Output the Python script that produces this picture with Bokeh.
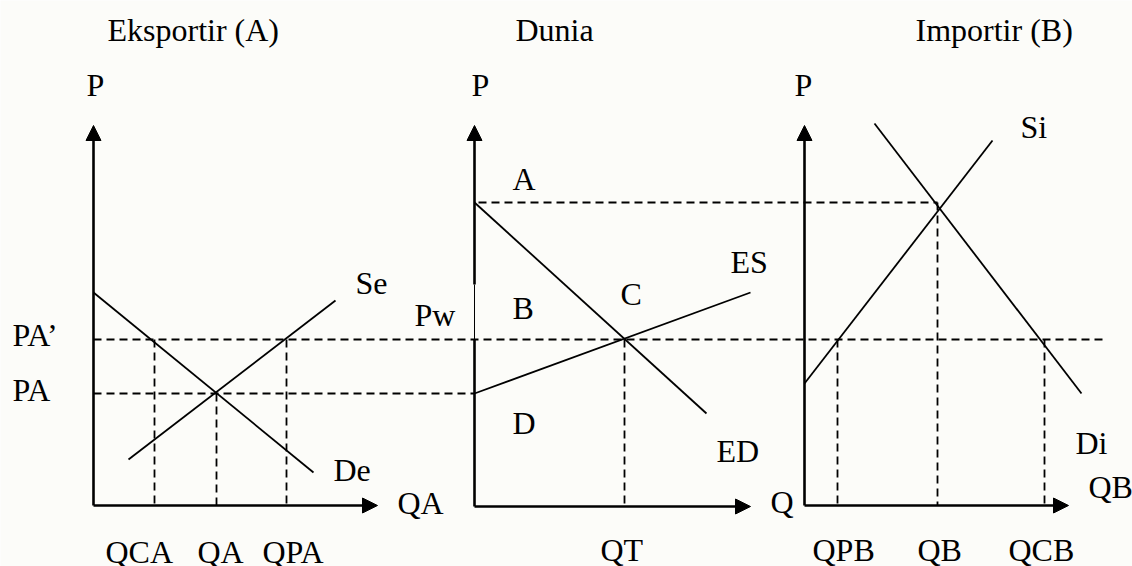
from bokeh.plotting import figure
from bokeh.models import Range1d, Arrow, NormalHead, ColumnDataSource
from bokeh.core.properties import value
from bokeh.embed import file_html
from bokeh.resources import INLINE

# ---- diagram geometry (picture coordinates: x to the right, y downward) ----
# axes with arrow heads: start -> tip
arrow_x0 = [93, 93, 474, 474, 804, 804]
arrow_y0 = [505, 505, 284, 506, 505, 505]
arrow_x1 = [93, 377, 474, 750, 804, 1068]
arrow_y1 = [125, 505, 125, 506, 125, 505]

# plain axis pieces of the middle panel (thick, thin)
axis_thick_x0 = [474]; axis_thick_y0 = [506]; axis_thick_x1 = [474]; axis_thick_y1 = [339]
axis_thin_x0 = [474];  axis_thin_y0 = [339];  axis_thin_x1 = [474];  axis_thin_y1 = [284]

# curves: De, Se, ED, ES, Di, Si
curve_names = ["De", "Se", "ED", "ES", "Di", "Si"]
curve_x0 = [93, 128, 474, 474, 874, 804]
curve_y0 = [292, 459, 202, 393, 123, 383]
curve_x1 = [313, 335, 706, 750, 1081, 992]
curve_y1 = [472, 300, 413, 292, 393, 140]

# dashed guides: PA', PA, A-level, QCA, QA, QPA, QT, QPB, QB, QCB
dash_x0 = [93, 93, 478, 154, 216, 286, 624, 837, 937, 1044]
dash_y0 = [339, 393, 202, 339, 393, 339, 339, 339, 202, 339]
dash_x1 = [1107, 474, 937, 154, 216, 286, 624, 837, 937, 1044]
dash_y1 = [339, 393, 202, 505, 505, 505, 506, 505, 505, 505]

# labels: text, left x, baseline y
label_text = ["Eksportir (A)", "Dunia", "Importir (B)",
              "P", "P", "P",
              "PA\u2019", "PA", "Se", "De", "QA",
              "QCA", "QA", "QPA",
              "A", "B", "C", "ES", "Pw", "D", "ED", "Q", "QT",
              "Si", "Di", "QB", "QPB", "QB", "QCB"]
label_x = [107, 515, 915,
           86, 471, 794,
           12, 12, 355, 333, 397,
           105, 197, 262,
           512, 512, 620, 730, 414, 512, 716, 770, 600,
           1020, 1075, 1088, 812, 917, 1008]
label_y = [40, 40, 40,
           95, 95, 95,
           345, 400, 293, 480, 513,
           562, 562, 562,
           189, 318, 304, 272, 325, 433, 461, 512, 560,
           137, 453, 497, 560, 560, 560]

bg = "#fcfcf9"
p = figure(width=1132, height=566, output_backend="svg", toolbar_location=None,
           x_range=Range1d(0, 1132), y_range=Range1d(566, 0),
           min_border=0, background_fill_color=bg, border_fill_color=bg)
p.axis.visible = False
p.grid.visible = False
p.outline_line_color = None

# axes
for x0, y0, x1, y1 in zip(arrow_x0, arrow_y0, arrow_x1, arrow_y1):
    p.add_layout(Arrow(x_start=x0, y_start=y0, x_end=x1, y_end=y1,
                       line_width=2.6, line_color="black",
                       end=NormalHead(size=15, fill_color="black", line_color="black", line_width=1)))
p.segment(axis_thick_x0, axis_thick_y0, axis_thick_x1, axis_thick_y1, line_width=2.6, line_color="black")
p.segment(axis_thin_x0, axis_thin_y0, axis_thin_x1, axis_thin_y1, line_width=1, line_color="black")

# dashed guides
p.segment(dash_x0, dash_y0, dash_x1, dash_y1, line_width=1.8, line_color="black", line_dash="8 5")

# curves
p.segment(curve_x0, curve_y0, curve_x1, curve_y1, line_width=1.8, line_color="black")

# labels
src = ColumnDataSource(dict(x=label_x, y=label_y, t=label_text))
p.text(x="x", y="y", text="t", source=src, text_font=value("Liberation Serif"),
       text_font_size="32px", text_color="black", text_align="left", text_baseline="alphabetic",
       y_offset=-11)

open("out.html", "w").write(file_html(p, INLINE))
